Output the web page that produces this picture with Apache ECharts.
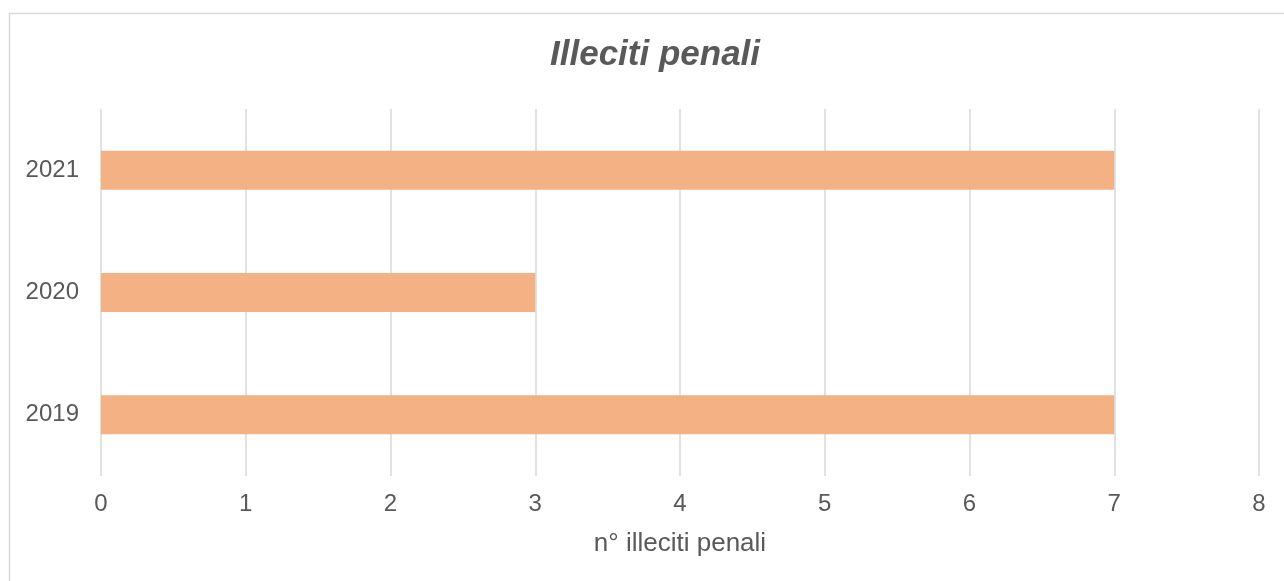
<!DOCTYPE html>
<html>
<head>
<meta charset="utf-8">
<script src="https://cdn.jsdelivr.net/npm/echarts@6/dist/echarts.min.js"></script>
<style>
html, body { margin: 0; padding: 0; background: #fff; }
#chart { width: 1284px; height: 581px; }
</style>
</head>
<body>
<div id="chart"></div>
<script>
// dati del grafico
var years = ['2019', '2020', '2021'];
var illeciti = [7, 3, 7];
var xTicks = [0, 1, 2, 3, 4, 5, 6, 7, 8];

var chart = echarts.init(document.getElementById('chart'));
var textColor = '#595959';
var font = '"Liberation Sans", Arial, sans-serif';

chart.setOption({
	animation: false,
	title: {
		text: 'Illeciti penali',
		left: 545,
		top: 33,
		textStyle: {
			fontFamily: font,
			fontSize: 35,
			fontStyle: 'italic',
			fontWeight: 'bold',
			color: textColor
		}
	},
	graphic: [{
		type: 'rect',
		shape: { x: 9.5, y: 13.5, width: 1400, height: 700 },
		style: { fill: 'none', stroke: '#d9d9d9', lineWidth: 1.5 },
		silent: true
	}],
	grid: {
		left: 101,
		right: 25,
		top: 109,
		bottom: 105,
		containLabel: false
	},
	xAxis: {
		type: 'value',
		min: xTicks[0],
		max: xTicks[xTicks.length - 1],
		interval: 1,
		name: 'n° illeciti penali',
		nameLocation: 'middle',
		nameGap: 55,
		nameTextStyle: { fontFamily: font, fontSize: 26, color: textColor },
		axisLine: { show: false },
		axisTick: { show: false },
		axisLabel: { fontFamily: font, fontSize: 24, color: textColor, margin: 16 },
		splitLine: { show: true, lineStyle: { color: '#d9d9d9', width: 1.5 } }
	},
	yAxis: {
		type: 'category',
		data: years,
		axisLine: { show: false },
		axisTick: { show: false },
		axisLabel: { fontFamily: font, fontSize: 24, color: textColor, margin: 22 }
	},
	series: [{
		name: 'Illeciti penali',
		type: 'bar',
		data: illeciti,
		barWidth: 39,
		itemStyle: { color: '#f4b183' }
	}]
});
</script>
</body>
</html>
